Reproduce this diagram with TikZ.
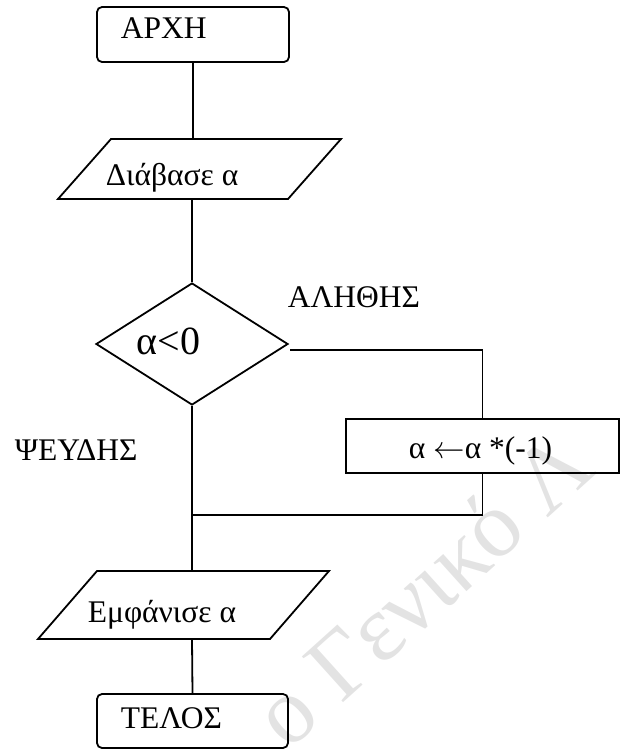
\documentclass[tikz,border=0pt]{standalone}
\usepackage{fontspec}
\usepackage{unicode-math}
\setmainfont{Liberation Serif}
\setmathfont{Latin Modern Math}
\usetikzlibrary{shapes.geometric}
\begin{document}
\begin{tikzpicture}[x=1pt,y=-1pt,
  line width=1.8pt,
  lbl/.style={anchor=base west,inner sep=0pt,font=\fontsize{31.5}{36}\selectfont},
  termbox/.style={draw,rectangle,rounded corners=5pt,inner sep=0pt,minimum width=192pt,minimum height=55pt},
  procbox/.style={draw,rectangle,inner sep=0pt,minimum width=273pt,minimum height=54pt},
  decbox/.style={draw,diamond,inner sep=0pt,minimum width=192pt,minimum height=122pt}]
\useasboundingbox (0,0) rectangle (626,750);
% watermark
\begin{scope}
  \clip (0,0) rectangle (626,750);
  \node[anchor=base west,inner sep=0pt,rotate=42,text=black!11,font=\fontsize{94}{94}\selectfont] (wm) at (288,752) {ο Γενικό Λ};
\end{scope}
% shapes
\node[termbox] (start) at (193,34.5) {};
\draw (58,199) -- (288,199) -- (341,139) -- (111,139) -- cycle;
\coordinate (readN) at (192,139);
\coordinate (readS) at (192,199);
\node[decbox] (dec) at (192,344) {};
\node[procbox] (proc) at (482.5,446) {};
\draw (38,639) -- (270,639) -- (329,571) -- (97,571) -- cycle;
\coordinate (outN) at (192,571);
\coordinate (outS) at (192,639);
\node[termbox,minimum width=191pt,minimum height=54pt] (stop) at (192.5,721) {};
% texts
\node[lbl] (tstart) at (120,38) {ΑΡΧΗ};
\node[lbl] (tread) at (105,185) {Διάβασε α};
\node[lbl,font=\fontsize{40}{44}\selectfont] (tdec) at (136,354) {α<0};
\node[lbl] (ttrue) at (287,307) {ΑΛΗΘΗΣ};
\node[lbl] (tfalse) at (14,460) {ΨΕΥΔΗΣ};
\node[lbl] (tproc) at (408,458) {α $\leftarrow$α *(-1)};
\node[lbl] (tout) at (87,622) {Εμφάνισε α};
\node[lbl] (tstop) at (120,728) {ΤΕΛΟΣ};
% connectors
\coordinate (tstart0) at (290,350);
\coordinate (merge) at (192,515);
\draw (start.south) -- (start.south |- readN);
\draw (readS) -- (dec.north);
\draw (tstart0) -| (proc.north);
\draw (proc.south) |- (merge);
\draw (dec.south) -- (outN);
\draw (outS) -- (stop.north);
\end{tikzpicture}
\end{document}
